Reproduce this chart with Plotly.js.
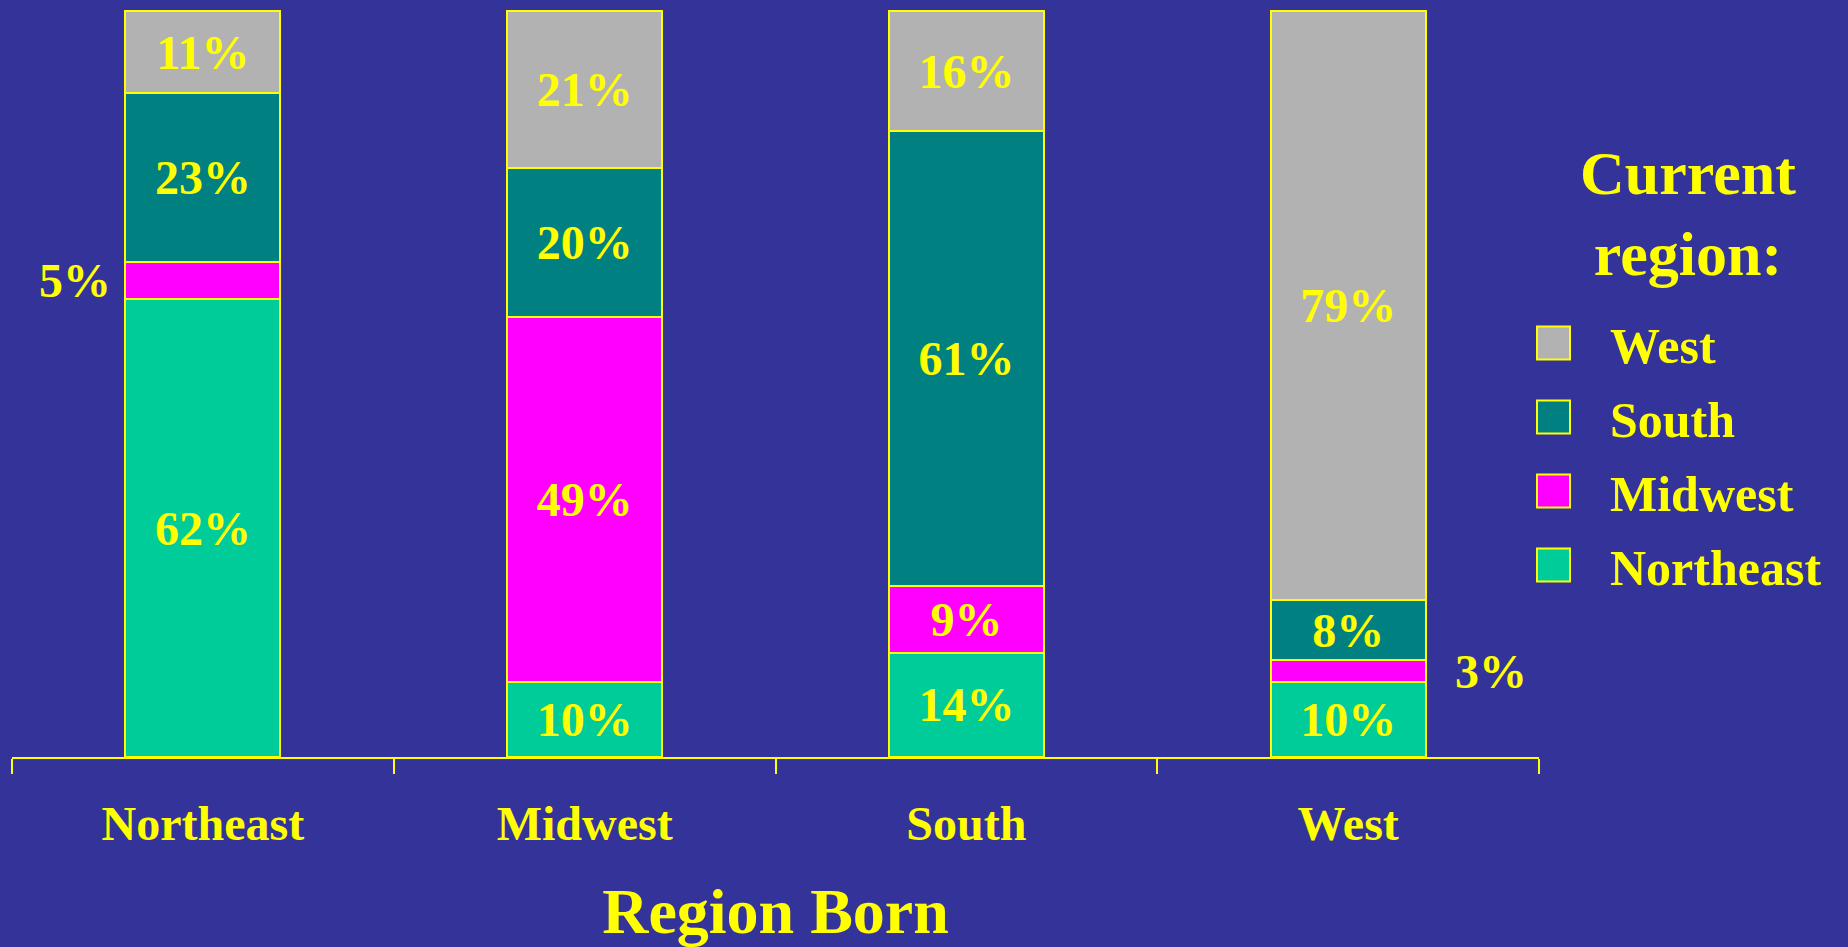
<!DOCTYPE html>
<html><head><meta charset="utf-8">
<script src="https://cdn.plot.ly/plotly-3.0.1.min.js"></script>
<style>html,body{margin:0;padding:0;background:#333399;overflow:hidden;} #chart{width:1848px;height:947px;}</style>
</head><body><div id="chart"></div>
<script>
// Region born (x categories)
const bornRegions = ['Northeast', 'Midwest', 'South', 'West'];
// Current region shares (%) per born region
const currentNortheast = [62, 10, 14, 10];
const currentMidwest   = [5, 49, 9, 3];
const currentSouth     = [23, 20, 61, 8];
const currentWest      = [11, 21, 16, 79];
const seriesNames  = ['Northeast', 'Midwest', 'South', 'West'];
const seriesValues = [currentNortheast, currentMidwest, currentSouth, currentWest];
const seriesColors = ['#00CC99', '#FF00FF', '#008080', '#B2B2B2'];
const legendTitle = 'Current<br>region:';

const FONT = '"Liberation Serif", "Times New Roman", serif';
const YEL = '#FFFF00';
const SMALL = 6; // segments below this get their label beside the bar
const sideShift = [-128, 143, 143, 143];

const traces = seriesNames.map((name, si) => ({
  type: 'bar',
  name: name,
  legendgroup: name,
  legendrank: seriesNames.length - si,
  x: bornRegions,
  y: seriesValues[si],
  text: seriesValues[si].map(v => v >= SMALL ? v + '%' : ''),
  textposition: 'inside',
  insidetextanchor: 'middle',
  textangle: 0,
  constraintext: 'none',
  textfont: {family: FONT, size: 48, color: YEL, weight: 'bold'},
  marker: {color: seriesColors[si], line: {color: YEL, width: 2}},
  hoverinfo: 'skip'
}));

// Labels placed beside the bar for thin segments
const annotations = [];
bornRegions.forEach((cat, ci) => {
  const total = seriesValues.reduce((s, arr) => s + arr[ci], 0);
  let cum = 0;
  seriesValues.forEach(arr => {
    const v = arr[ci];
    if (v < SMALL) {
      annotations.push({
        x: cat, y: (cum + v / 2) / total * 100, xref: 'x', yref: 'y',
        text: v + '%', showarrow: false, xshift: sideShift[ci],
        font: {family: FONT, size: 48, color: YEL, weight: 'bold'}
      });
    }
    cum += v;
  });
});
// Legend heading
annotations.push({
  xref: 'paper', yref: 'paper', x: (1688 - 12) / (1539 - 12), y: 1 - (213 - 10) / (947 - 10 - 190),
  xanchor: 'center', yanchor: 'middle', align: 'center', showarrow: false,
  text: legendTitle, font: {family: FONT, size: 62, color: YEL, weight: 'bold'}
});

const layout = {
  width: 1848, height: 947,
  paper_bgcolor: '#333399', plot_bgcolor: '#333399',
  margin: {l: 12, r: 309, t: 10, b: 190, autoexpand: false},
  barmode: 'stack', barnorm: 'percent', bargap: 0.594,
  showlegend: true,
  font: {family: FONT, color: YEL},
  xaxis: {
    type: 'category', showline: true, linecolor: YEL, linewidth: 2,
    ticks: 'outside', tickson: 'boundaries', ticklen: 15, tickwidth: 2, tickcolor: YEL,
    tickfont: {family: FONT, size: 48, color: YEL, weight: 'bold'},
    ticklabelstandoff: 23,
    showgrid: false, zeroline: false, automargin: false, fixedrange: true,
    title: {text: 'Region Born', font: {family: FONT, size: 64, color: YEL, weight: 'bold'}, standoff: 40}
  },
  yaxis: {range: [0, 100.2], visible: false, showgrid: false, zeroline: false, fixedrange: true},
  legend: {
    xref: 'container', yref: 'container', x: 1497 / 1848, y: 1 - 304 / 947,
    xanchor: 'left', yanchor: 'top',
    bgcolor: 'rgba(0,0,0,0)', borderwidth: 0,
    traceorder: 'grouped', tracegroupgap: 6, itemwidth: 103,
    font: {family: FONT, size: 50, color: YEL, weight: 'bold'}
  },
  annotations: annotations
};

Plotly.newPlot('chart', traces, layout, {staticPlot: true, displayModeBar: false}).then(gd => {
  gd.querySelectorAll('.legend .legendpoints path').forEach(p => {
    p.setAttribute('d', 'M16.5,16.5H-16.5V-16.5H16.5Z');
  });
});
</script>
</body></html>
